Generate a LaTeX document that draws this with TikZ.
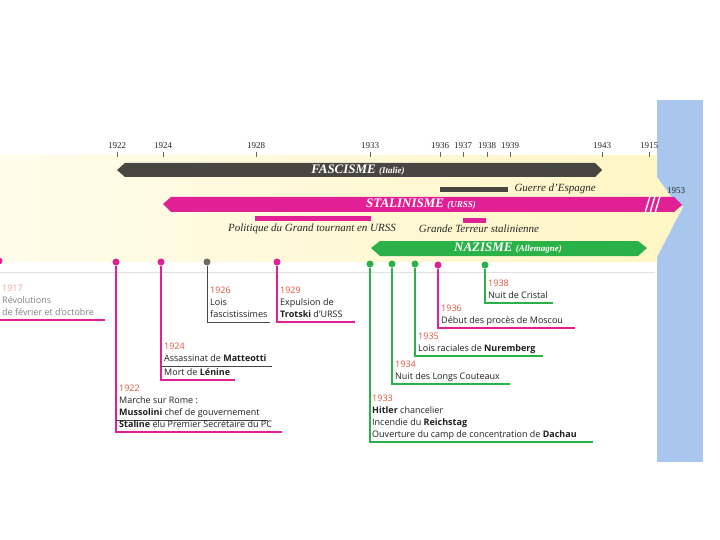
\documentclass[tikz,border=0pt]{standalone}
\usepackage{fontspec}
\setmainfont{Liberation Serif}
\setsansfont{Open Sans}
\definecolor{magbar}{RGB}{226,32,150}
\definecolor{grnbar}{RGB}{42,178,72}
\definecolor{darkbar}{RGB}{72,70,64}
\definecolor{yearred}{RGB}{222,84,62}
\definecolor{bluestrip}{RGB}{168,198,238}
\definecolor{bandyellow}{RGB}{255,246,196}
\newcommand{\evtfont}{\sffamily\fontsize{9}{12}\selectfont}
\newcommand{\yrev}[1]{\textcolor{yearred}{#1}}
\begin{document}
\begin{tikzpicture}[x=1pt,y=-1pt,
    yr/.style={font=\fontsize{9}{10}\selectfont,text=black!85},
    tick/.style={line width=0.4pt,black!60},
    bartext/.style={text=white,font=\bfseries\itshape\fontsize{13}{13}\selectfont},
    barnote/.style={font=\itshape\fontsize{11}{12}\selectfont,text=black!85},
    dot/.style={circle,inner sep=0pt,minimum size=7pt},
    evt/.style={anchor=south west,inner sep=0pt,align=left,font=\evtfont,text=black!88},
    link/.style={line width=1.1pt},
    subline/.style={line width=0.8pt,darkbar}]
\useasboundingbox (0,0) rectangle (720,540);
% background
\fill[bluestrip] (657,100) rectangle (703,462);
\shade[left color=bandyellow!35,right color=bandyellow] (0,155) -- (657,155) -- (657,177)
  -- (673,199) -- (683,207) -- (672,228) -- (657,257) -- (657,262) -- (0,262) -- cycle;
\draw[black!12,line width=0.6pt] (0,272) -- (655,272);
% years
\foreach \yx in {117,163,256,370,440,463,487,510,602,649}{
  \draw[tick] (\yx,152) -- (\yx,157);
}
\node[yr] (y22) at (117,146) {1922};
\node[yr] (y24) at (163,146) {1924};
\node[yr] (y28) at (256,146) {1928};
\node[yr] (y33) at (370,146) {1933};
\node[yr] (y36) at (440,146) {1936};
\node[yr] (y37) at (463,146) {1937};
\node[yr] (y38) at (487,146) {1938};
\node[yr] (y39) at (510,146) {1939};
\node[yr] (y43) at (602,146) {1943};
\node[yr] (y45) at (649,146) {1915};
\node[yr] (y53) at (676,191) {1953};
% bars
\fill[darkbar] (117,170) -- (125,163) -- (595,163) -- (602,170) -- (595,177) -- (125,177) -- cycle;
\node[bartext] (fasc) at (358,170) {FASCISME {\fontsize{9}{9}\selectfont(Italie)}};
\fill[darkbar] (440,187) rectangle (508,192);
\node[barnote,anchor=west] (espa) at (511,189) {Guerre d'Espagne};
\fill[magbar] (163,204) -- (171,197) -- (674,197) -- (682,205) -- (674,212) -- (171,212) -- cycle;
\foreach \sx in {645,650,655}{
  \draw[white,line width=1.4pt] (\sx,213) -- (\sx+5,196);
}
\node[bartext] (stal) at (421,204) {STALINISME {\fontsize{9}{9}\selectfont(URSS)}};
\fill[magbar] (255,216) rectangle (371,221);
\node[barnote] (gtour) at (312,229) {Politique du Grand tournant en URSS};
\fill[magbar] (463,218) rectangle (486,223);
\node[barnote] (gter) at (479,229) {Grande Terreur stalinienne};
\fill[grnbar] (371,248) -- (380,241) -- (638,241) -- (647,248) -- (638,256) -- (380,256) -- cycle;
\node[bartext] (nazi) at (508,248) {NAZISME {\fontsize{9}{9}\selectfont(Allemagne)}};
% events
\node[dot,fill=magbar] (d17) at (-1,261) {};
\coordinate (b17) at (0,320);
\coordinate (u17) at (105,320);
\draw[link,magbar] (b17) -- (u17);
\node[evt,text=black!50] (t17) at (2,319) {\textcolor{yearred!55}{1917}\\R\'evolutions\\de f\'evrier et d'octobre\strut};
\node[dot,fill=magbar] (d22) at (116,262) {};
\coordinate (b22) at (116,432);
\coordinate (u22) at (282,432);
\coordinate (m22) at (116,420);
\coordinate (n22) at (268,420);
\draw[link,magbar] (d22) -- (b22) -- (u22);
\draw[subline] (m22) -- (n22);
\node[evt] (t22a) at (119,419) {\yrev{1922}\\Marche sur Rome :\\\textbf{Mussolini} chef de gouvernement\strut};
\node[evt] (t22b) at (119,431) {\textbf{Staline} \'elu Premier Secr\'etaire du PC\strut};
\node[dot,fill=magbar] (d24) at (161,262) {};
\coordinate (b24) at (161,380);
\coordinate (u24) at (235,380);
\coordinate (m24) at (161,366);
\coordinate (n24) at (272,366);
\draw[link,magbar] (d24) -- (b24) -- (u24);
\draw[subline] (m24) -- (n24);
\node[evt] (t24a) at (164,365) {\yrev{1924}\\Assassinat de \textbf{Matteotti}\strut};
\node[evt] (t24b) at (164,379) {Mort de \textbf{L\'enine}\strut};
\node[dot,fill=darkbar!80] (d26) at (207,262) {};
\coordinate (b26) at (207,322);
\coordinate (u26) at (270,322);
\draw[link,line width=0.9pt,darkbar] (d26) -- (b26) -- (u26);
\node[evt] (t26) at (210,321) {\yrev{1926}\\Lois\\fascistissimes\strut};
\node[dot,fill=magbar] (d29) at (277,262) {};
\coordinate (b29) at (277,322);
\coordinate (u29) at (355,322);
\draw[link,magbar] (d29) -- (b29) -- (u29);
\node[evt] (t29) at (280,321) {\yrev{1929}\\Expulsion de\\\textbf{Trotski} d'URSS\strut};
\node[dot,fill=grnbar] (d33) at (370,264) {};
\coordinate (b33) at (370,442);
\coordinate (u33) at (593,442);
\draw[link,grnbar] (d33) -- (b33) -- (u33);
\node[evt] (t33) at (372,441) {\yrev{1933}\\\textbf{Hitler} chancelier\\Incendie du \textbf{Reichstag}\\Ouverture du camp de concentration de \textbf{Dachau}\strut};
\node[dot,fill=grnbar] (d34) at (392,264) {};
\coordinate (b34) at (392,384);
\coordinate (u34) at (510,384);
\draw[link,grnbar] (d34) -- (b34) -- (u34);
\node[evt] (t34) at (395,383) {\yrev{1934}\\Nuit des Longs Couteaux\strut};
\node[dot,fill=grnbar] (d35) at (415,264) {};
\coordinate (b35) at (415,356);
\coordinate (u35) at (543,356);
\draw[link,grnbar] (d35) -- (b35) -- (u35);
\node[evt] (t35) at (418,355) {\yrev{1935}\\Lois raciales de \textbf{Nuremberg}\strut};
\node[dot,fill=magbar] (d36) at (438,265) {};
\coordinate (b36) at (438,328);
\coordinate (u36) at (575,328);
\draw[link,magbar] (d36) -- (b36) -- (u36);
\node[evt] (t36) at (441,327) {\yrev{1936}\\D\'ebut des proc\`es de Moscou\strut};
\node[dot,fill=grnbar] (d38) at (485,265) {};
\coordinate (b38) at (485,303);
\coordinate (u38) at (553,303);
\draw[link,grnbar] (d38) -- (b38) -- (u38);
\node[evt] (t38) at (488,302) {\yrev{1938}\\Nuit de Cristal\strut};
\end{tikzpicture}
\end{document}
